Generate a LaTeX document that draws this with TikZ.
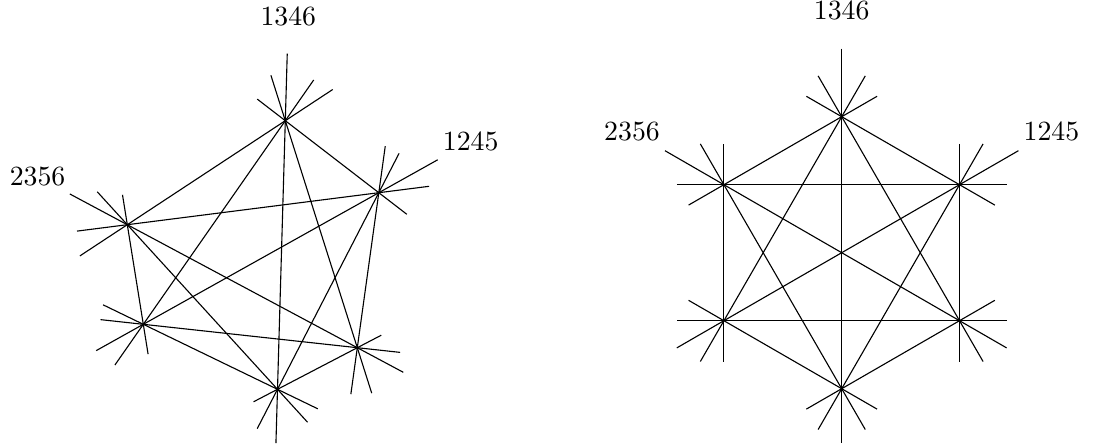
\documentclass[tikz,border=0pt]{standalone}
\usetikzlibrary{calc}

\begin{document}
\begin{tikzpicture}[x=0.36pt, y=-0.36pt,
  ln/.style={line width=0.4pt, black},
  lbl/.style={inner sep=0pt, font=\normalsize}
]
\useasboundingbox (0,0) rectangle (1093,447);

% Left arrangement (perturbed)
\coordinate (l1) at (285.3,120.7);
\coordinate (l2) at (378.8,192.7);
\coordinate (l3) at (357.3,347.7);
\coordinate (l4) at (277.5,389.3);
\coordinate (l5) at (143.3,324.3);
\coordinate (l6) at (127.3,224.7);

% Right arrangement (regular hexagon)
\coordinate (r1) at (841.7,116.7);
\coordinate (r2) at (959.5,184.7);
\coordinate (r3) at (959.5,320.7);
\coordinate (r4) at (841.7,388.7);
\coordinate (r5) at (723.9,320.7);
\coordinate (r6) at (723.9,184.7);

% Left: sides
\draw[ln] ($(l1)!-0.3!(l2)$) -- ($(l1)!1.3!(l2)$);
\draw[ln] ($(l2)!-0.3!(l3)$) -- ($(l2)!1.3!(l3)$);
\draw[ln] ($(l3)!-0.3!(l4)$) -- ($(l3)!1.3!(l4)$);
\draw[ln] ($(l4)!-0.3!(l5)$) -- ($(l4)!1.3!(l5)$);
\draw[ln] ($(l5)!-0.3!(l6)$) -- ($(l5)!1.3!(l6)$);
\draw[ln] ($(l6)!-0.3!(l1)$) -- ($(l6)!1.3!(l1)$);
% Left: short diagonals
\draw[ln] ($(l1)!-0.2!(l3)$) -- ($(l1)!1.2!(l3)$);
\draw[ln] ($(l2)!-0.2!(l4)$) -- ($(l2)!1.2!(l4)$);
\draw[ln] ($(l3)!-0.2!(l5)$) -- ($(l3)!1.2!(l5)$);
\draw[ln] ($(l4)!-0.2!(l6)$) -- ($(l4)!1.2!(l6)$);
\draw[ln] ($(l5)!-0.2!(l1)$) -- ($(l5)!1.2!(l1)$);
\draw[ln] ($(l6)!-0.2!(l2)$) -- ($(l6)!1.2!(l2)$);
% Left: long diagonals
\draw[ln] ($(l1)!-0.25!(l4)$) -- ($(l1)!1.2!(l4)$);
\draw[ln] ($(l2)!-0.25!(l5)$) -- ($(l2)!1.2!(l5)$);
\draw[ln] ($(l6)!-0.25!(l3)$) -- ($(l6)!1.2!(l3)$);

% Right: sides
\draw[ln] ($(r1)!-0.3!(r2)$) -- ($(r1)!1.3!(r2)$);
\draw[ln] ($(r2)!-0.3!(r3)$) -- ($(r2)!1.3!(r3)$);
\draw[ln] ($(r3)!-0.3!(r4)$) -- ($(r3)!1.3!(r4)$);
\draw[ln] ($(r4)!-0.3!(r5)$) -- ($(r4)!1.3!(r5)$);
\draw[ln] ($(r5)!-0.3!(r6)$) -- ($(r5)!1.3!(r6)$);
\draw[ln] ($(r6)!-0.3!(r1)$) -- ($(r6)!1.3!(r1)$);
% Right: short diagonals
\draw[ln] ($(r1)!-0.2!(r3)$) -- ($(r1)!1.2!(r3)$);
\draw[ln] ($(r2)!-0.2!(r4)$) -- ($(r2)!1.2!(r4)$);
\draw[ln] ($(r3)!-0.2!(r5)$) -- ($(r3)!1.2!(r5)$);
\draw[ln] ($(r4)!-0.2!(r6)$) -- ($(r4)!1.2!(r6)$);
\draw[ln] ($(r5)!-0.2!(r1)$) -- ($(r5)!1.2!(r1)$);
\draw[ln] ($(r6)!-0.2!(r2)$) -- ($(r6)!1.2!(r2)$);
% Right: long diagonals
\draw[ln] ($(r1)!-0.25!(r4)$) -- ($(r1)!1.2!(r4)$);
\draw[ln] ($(r2)!-0.25!(r5)$) -- ($(r2)!1.2!(r5)$);
\draw[ln] ($(r6)!-0.25!(r3)$) -- ($(r6)!1.2!(r3)$);

% Labels of the long diagonals
\node[lbl] (l1346) at ($(l1)!-0.39!(l4)$) {1346};
\node[lbl] (l2356) at ($(l6)!-0.39!(l3)$) {2356};
\node[lbl] (l1245) at ($(l2)!-0.39!(l5)$) {1245};
\node[lbl] (r1346) at ($(r1)!-0.39!(r4)$) {1346};
\node[lbl] (r2356) at ($(r6)!-0.39!(r3)$) {2356};
\node[lbl] (r1245) at ($(r2)!-0.39!(r5)$) {1245};
\end{tikzpicture}
\end{document}
